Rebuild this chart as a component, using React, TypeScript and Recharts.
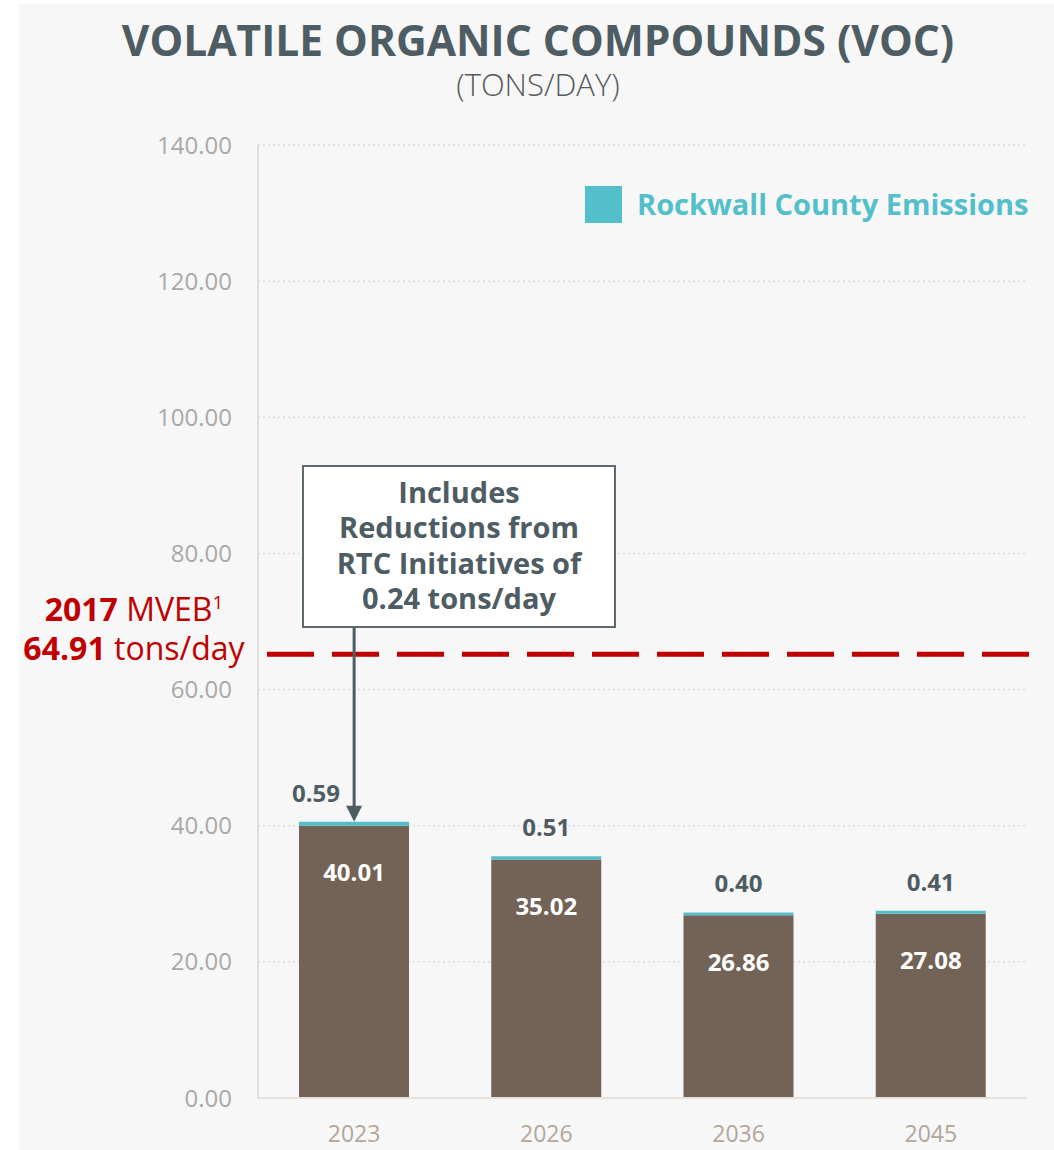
import {
  BarChart,
  Bar,
  XAxis,
  YAxis,
  CartesianGrid,
  ReferenceLine,
  LabelList,
} from "recharts";

const years = ["2023", "2026", "2036", "2045"];
const baseEmissions = [40.01, 35.02, 26.86, 27.08];
const rockwallEmissions = [0.59, 0.51, 0.4, 0.41];
const yTicks = [0, 20, 40, 60, 80, 100, 120, 140];
const mvebValue = 64.91;
const arrowStartValue = 69.2;

const data = years.map((year, i) => ({
  year,
  base: baseEmissions[i],
  rockwall: rockwallEmissions[i],
}));

const FONT = "'Open Sans', sans-serif";
const SLATE = "#4e5c63";
const BROWN = "#736357";
const TEAL = "#53bfca";
const RED = "#c00000";

const RockwallLabel = (props: any) => {
  const { x, y, width, value, index } = props;
  const shift = index === 0 ? -38 : 0;
  return (
    <text
      x={x + width / 2 + shift}
      y={y - 20}
      textAnchor="middle"
      fill={SLATE}
      fontSize={24}
      fontWeight={700}
      fontFamily={FONT}
    >
      {Number(value).toFixed(2)}
    </text>
  );
};

const BaseLabel = (props: any) => {
  const { x, y, width, value } = props;
  return (
    <text
      x={x + width / 2}
      y={y + 46}
      textAnchor="middle"
      dominantBaseline="central"
      fill="#ffffff"
      fontSize={24}
      fontWeight={700}
      fontFamily={FONT}
    >
      {Number(value).toFixed(2)}
    </text>
  );
};

const MvebLine = (props: any) => {
  const { x1, x2, y1, y2 } = props;
  return (
    <line
      x1={x1 + 9}
      x2={x2 + 7}
      y1={y1 - 2}
      y2={y2 - 2}
      stroke={RED}
      strokeWidth={5}
      strokeDasharray="47 18"
    />
  );
};

const ArrowShape = (props: any) => {
  const { x1, y1, x2, y2 } = props;
  return (
    <g>
      <line x1={x1} y1={y1} x2={x2} y2={y2 - 14} stroke={SLATE} strokeWidth={3} />
      <polygon
        points={`${x2 - 8},${y2 - 16} ${x2 + 8},${y2 - 16} ${x2},${y2}`}
        fill={SLATE}
      />
    </g>
  );
};

export default function App() {
  return (
    <div
      style={{
        position: "absolute",
        left: 0,
        top: 0,
        width: 1054,
        height: 1150,
        background: "#ffffff",
        overflow: "hidden",
      }}
    >
      <div
        style={{
          position: "absolute",
          left: 19,
          top: 4,
          width: 1035,
          height: 1146,
          background: "#f7f7f7",
        }}
      />
      <div style={{ position: "absolute", left: 0, top: 0 }}>
        <BarChart
          width={1054}
          height={1150}
          data={data}
          margin={{ top: 145, right: 27, bottom: 12, left: 0 }}
        >
          <CartesianGrid
            vertical={false}
            stroke="#d9d9d9"
            strokeDasharray="2 3"
            strokeWidth={1.5}
          />
          <XAxis
            dataKey="year"
            height={40}
            axisLine={{ stroke: "#e6e1dd", strokeWidth: 2 }}
            tickLine={false}
            tickMargin={22}
            tick={{ fill: "#b3a69b", fontSize: 23, fontFamily: FONT }}
          />
          <YAxis
            domain={[0, 140]}
            ticks={yTicks}
            interval={0}
            width={258}
            tickFormatter={(v) => Number(v).toFixed(2)}
            axisLine={{ stroke: "#e2ddd9", strokeWidth: 2 }}
            tickLine={false}
            tickMargin={20}
            tick={{ fill: "#a9a9a9", fontSize: 24, fontFamily: FONT }}
          />
          <Bar
            dataKey="base"
            stackId="voc"
            fill={BROWN}
            barSize={110}
            isAnimationActive={false}
          >
            <LabelList dataKey="base" content={BaseLabel} />
          </Bar>
          <Bar
            dataKey="rockwall"
            name="Rockwall County Emissions"
            stackId="voc"
            fill={TEAL}
            barSize={110}
            isAnimationActive={false}
          >
            <LabelList dataKey="rockwall" content={RockwallLabel} />
          </Bar>
          <ReferenceLine
            y={mvebValue}
            ifOverflow="visible"
            shape={MvebLine}
          />
          <ReferenceLine
            segment={[
              { x: years[0], y: arrowStartValue },
              { x: years[0], y: baseEmissions[0] + rockwallEmissions[0] },
            ]}
            ifOverflow="visible"
            shape={ArrowShape}
          />
        </BarChart>
      </div>
      <svg
        width={1054}
        height={1150}
        style={{ position: "absolute", left: 0, top: 0, pointerEvents: "none" }}
        fontFamily={FONT}
      >
        <text x={538} y={56} textAnchor="middle" fill={SLATE} fontSize={42.5} fontWeight={700}>
          VOLATILE ORGANIC COMPOUNDS (VOC)
        </text>
        <text x={538} y={96} textAnchor="middle" fill="#555b5e" fontSize={31} fontWeight={300}>
          (TONS/DAY)
        </text>
        <rect x={585} y={186} width={37} height={37} fill={TEAL} />
        <text x={637} y={215} fill={TEAL} fontSize={29} fontWeight={700}>
          Rockwall County Emissions
        </text>
        <text x={134} y={621} textAnchor="middle" fill={RED} fontSize={32}>
          <tspan fontWeight={700}>2017</tspan>
          <tspan> MVEB</tspan>
          <tspan fontSize={19} dy={-12}>1</tspan>
        </text>
        <text x={134} y={660} textAnchor="middle" fill={RED} fontSize={32}>
          <tspan fontWeight={700}>64.91</tspan>
          <tspan> tons/day</tspan>
        </text>
        <rect x={303} y={466} width={312} height={161} fill="#ffffff" stroke="#5d696e" strokeWidth={2} />
        <text x={459} textAnchor="middle" fill={SLATE} fontSize={29} fontWeight={700}>
          <tspan x={459} y={503}>Includes</tspan>
          <tspan x={459} y={538}>Reductions from</tspan>
          <tspan x={459} y={574}>RTC Initiatives of</tspan>
          <tspan x={459} y={609}>0.24 tons/day</tspan>
        </text>
      </svg>
    </div>
  );
}
